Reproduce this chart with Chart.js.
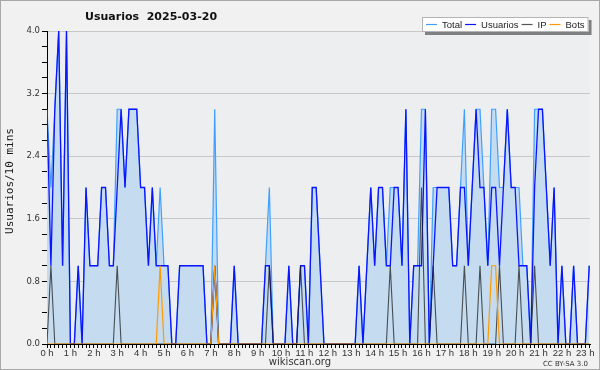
<!DOCTYPE html>
<html>
<head>
<meta charset="utf-8">
<script src="https://cdn.jsdelivr.net/npm/chart.js@4/dist/chart.umd.min.js"></script>
<style>
  html, body { margin: 0; padding: 0; background: #f1f1f1; }
  canvas { display: block; }
</style>
</head>
<body>
<canvas id="chart" width="600" height="370"></canvas>
<script>
// 10-minute slots from 0 h onwards
const hourLabels = ["0 h", "1 h", "2 h", "3 h", "4 h", "5 h", "6 h", "7 h", "8 h", "9 h", "10 h", "11 h",
  "12 h", "13 h", "14 h", "15 h", "16 h", "17 h", "18 h", "19 h", "20 h", "21 h", "22 h", "23 h"]
const yTickLabels = ["0.0", "0.8", "1.6", "2.4", "3.2", "4.0"]

const total = [
  3, 2, 3, 4, 1, 4, 0, 0, 1, 0, 2, 1,
  1, 1, 2, 2, 1, 1, 3, 3, 2, 3, 3, 3,
  2, 2, 1, 2, 1, 2, 1, 1, 0, 0, 1, 1,
  1, 1, 1, 1, 1, 0, 0, 3, 0, 0, 0, 0,
  1, 0, 0, 0, 0, 0, 0, 0, 1, 2, 0, 0,
  0, 0, 1, 0, 0, 1, 1, 0, 2, 2, 1, 0,
  0, 0, 0, 0, 0, 0, 0, 0, 1, 0, 1, 2,
  1, 2, 2, 1, 2, 2, 2, 1, 3, 0, 1, 1,
  3, 3, 0, 2, 2, 2, 2, 2, 1, 1, 2, 3,
  1, 2, 3, 3, 2, 1, 3, 3, 2, 2, 3, 2,
  2, 2, 1, 1, 0, 3, 3, 3, 2, 1, 2, 0,
  1, 0, 0, 1, 0, 0, 0, 1
]
const usuarios = [
  3, 1, 3, 4, 1, 4, 0, 0, 1, 0, 2, 1,
  1, 1, 2, 2, 1, 1, 2, 3, 2, 3, 3, 3,
  2, 2, 1, 2, 1, 1, 1, 1, 0, 0, 1, 1,
  1, 1, 1, 1, 1, 0, 0, 1, 0, 0, 0, 0,
  1, 0, 0, 0, 0, 0, 0, 0, 1, 1, 0, 0,
  0, 0, 1, 0, 0, 1, 1, 0, 2, 2, 1, 0,
  0, 0, 0, 0, 0, 0, 0, 0, 1, 0, 1, 2,
  1, 2, 2, 1, 1, 2, 2, 1, 3, 0, 1, 1,
  1, 3, 0, 1, 2, 2, 2, 2, 1, 1, 2, 2,
  1, 2, 3, 2, 2, 1, 2, 2, 1, 2, 3, 2,
  2, 1, 1, 1, 0, 2, 3, 3, 2, 1, 2, 0,
  1, 0, 0, 1, 0, 0, 0, 1
]
const ip = [
  0, 1, 0, 0, 0, 0, 0, 0, 0, 0, 0, 0,
  0, 0, 0, 0, 0, 0, 1, 0, 0, 0, 0, 0,
  0, 0, 0, 0, 0, 0, 0, 0, 0, 0, 0, 0,
  0, 0, 0, 0, 0, 0, 0, 1, 0, 0, 0, 0,
  0, 0, 0, 0, 0, 0, 0, 0, 0, 1, 0, 0,
  0, 0, 0, 0, 0, 1, 0, 0, 0, 0, 0, 0,
  0, 0, 0, 0, 0, 0, 0, 0, 0, 0, 0, 0,
  0, 0, 0, 0, 1, 0, 0, 0, 0, 0, 0, 0,
  2, 0, 0, 1, 0, 0, 0, 0, 0, 0, 0, 1,
  0, 0, 0, 1, 0, 0, 0, 0, 1, 0, 0, 0,
  0, 1, 0, 0, 0, 1, 0, 0, 0, 0, 0, 0,
  0, 0, 0, 0, 0, 0, 0, 0
]
const bots = [
  0, 0, 0, 0, 0, 0, 0, 0, 0, 0, 0, 0,
  0, 0, 0, 0, 0, 0, 0, 0, 0, 0, 0, 0,
  0, 0, 0, 0, 0, 1, 0, 0, 0, 0, 0, 0,
  0, 0, 0, 0, 0, 0, 0, 1, 0, 0, 0, 0,
  0, 0, 0, 0, 0, 0, 0, 0, 0, 0, 0, 0,
  0, 0, 0, 0, 0, 0, 0, 0, 0, 0, 0, 0,
  0, 0, 0, 0, 0, 0, 0, 0, 0, 0, 0, 0,
  0, 0, 0, 0, 0, 0, 0, 0, 0, 0, 0, 0,
  0, 0, 0, 0, 0, 0, 0, 0, 0, 0, 0, 0,
  0, 0, 0, 0, 0, 0, 1, 1, 0, 0, 0, 0,
  0, 0, 0, 0, 0, 0, 0, 0, 0, 0, 0, 0,
  0, 0, 0, 0, 0, 0, 0, 0
]

const toPoints = values => values.map((v, i) => ({ x: i, y: v }))

// background, plot area, title, legend and footer
const frame = {
  id: "frame",
  beforeDraw(chart) {
    const { ctx, chartArea: a } = chart
    ctx.save()
    ctx.fillStyle = "#f1f1f1"
    ctx.fillRect(0, 0, chart.width, chart.height)
    ctx.strokeStyle = "#a8a8a8"
    ctx.lineWidth = 1
    ctx.strokeRect(0.5, 0.5, chart.width - 1, chart.height - 1)
    ctx.fillStyle = "#eceef0"
    ctx.fillRect(a.left, a.top, a.right - a.left, a.bottom - a.top)
    ctx.restore()
  },
  afterDraw(chart) {
    const ctx = chart.ctx
    ctx.save()
    ctx.fillStyle = "#111"
    ctx.textBaseline = "middle"
    ctx.font = "bold 11px 'DejaVu Sans'"
    ctx.fillText("Usuarios  2025-03-20", 85, 17)

    // y axis title
    ctx.save()
    ctx.translate(10, 181)
    ctx.rotate(-Math.PI / 2)
    ctx.textAlign = "center"
    ctx.font = "11px 'DejaVu Sans Mono'"
    ctx.fillStyle = "#1a1a1a"
    ctx.fillText("Usuarios/10 mins", 0, 0)
    ctx.restore()

    // legend box with shadow
    ctx.font = "9.5px 'Liberation Sans'"
    const items = chart.data.datasets
    let x = 426
    const pos = items.map(ds => {
      const p = { lx: x, tx: x + 16, ds }
      x = p.tx + ctx.measureText(ds.label).width + 3
      return p
    })
    const boxL = 422, boxT = 17, boxW = x - boxL + 1, boxH = 15
    ctx.fillStyle = "#808080"
    ctx.fillRect(boxL + 3, boxT + 3, boxW, boxH)
    ctx.fillStyle = "#ffffff"
    ctx.fillRect(boxL, boxT, boxW, boxH)
    ctx.strokeStyle = "#b4b4b4"
    ctx.strokeRect(boxL + 0.5, boxT + 0.5, boxW - 1, boxH - 1)
    const cy = boxT + boxH / 2
    pos.forEach(p => {
      ctx.strokeStyle = p.ds.borderColor
      ctx.lineWidth = 1.2
      ctx.beginPath()
      ctx.moveTo(p.lx, cy)
      ctx.lineTo(p.lx + 11, cy)
      ctx.stroke()
      ctx.fillStyle = "#222"
      ctx.fillText(p.ds.label, p.tx, cy + 0.5)
    })

    // footer
    ctx.fillStyle = "#333"
    ctx.textAlign = "center"
    ctx.font = "10px 'DejaVu Sans'"
    ctx.fillText("wikiscan.org", 300, 362)
    ctx.textAlign = "right"
    ctx.font = "7px 'DejaVu Sans'"
    ctx.fillText("CC BY-SA 3.0", 588, 364)
    ctx.restore()
  }
}

new Chart(document.getElementById("chart"), {
  type: "line",
  data: {
    datasets: [
      { label: "Total", data: toPoints(total), order: 3, borderColor: "#40a0ff", borderWidth: 1.2,
        backgroundColor: "#c5dcf0", fill: "origin" },
      { label: "Usuarios", data: toPoints(usuarios), order: 2, borderColor: "#0a14ff", borderWidth: 1.3, fill: false },
      { label: "IP", data: toPoints(ip), order: 1, borderColor: "rgba(30,30,30,0.75)", borderWidth: 1.1, fill: false },
      { label: "Bots", data: toPoints(bots), order: 0, borderColor: "#ff9a00", borderWidth: 1.2, fill: false }
    ]
  },
  options: {
    responsive: false,
    animation: false,
    layout: { padding: { left: 0, top: 31, right: 10, bottom: 0 } },
    elements: { point: { radius: 0 }, line: { tension: 0 } },
    scales: {
      x: {
        type: "linear",
        min: 0,
        max: 139.2,
        afterBuildTicks: axis => { axis.ticks = hourLabels.flatMap((_, h) => [0, 1, 2, 3, 4, 5].map(m => ({ value: h * 6 + m }))).filter(t => t.value <= 139) },
        afterFit: axis => { axis.height = 26 },
        border: { display: true, color: "#000", width: 1 },
        grid: { drawOnChartArea: false, drawTicks: true, tickLength: 4, tickColor: "#000" },
        ticks: {
          autoSkip: false,
          maxRotation: 0,
          padding: 0,
          color: "#333",
          font: { family: "'Liberation Sans'", size: 9.5 },
          callback: value => value % 6 === 0 ? hourLabels[value / 6] : ""
        }
      },
      y: {
        min: 0,
        max: 4,
        afterBuildTicks: axis => { axis.ticks = Array.from({ length: 21 }, (_, i) => ({ value: i * 0.2 })) },
        afterFit: axis => { axis.width = 47 },
        border: { display: true, color: "#000", width: 1 },
        grid: {
          color: c => c.index % 4 === 0 && c.index > 0 ? "#c8c8c8" : "transparent",
          tickColor: "#000",
          tickLength: 5
        },
        ticks: {
          padding: 2,
          color: "#333",
          font: { family: "'DejaVu Sans'", size: 8.5 },
          callback: (value, index) => index % 4 === 0 ? yTickLabels[index / 4] : ""
        }
      }
    },
    plugins: {
      legend: { display: false },
      tooltip: { enabled: false }
    }
  },
  plugins: [frame]
})
</script>
</body>
</html>
